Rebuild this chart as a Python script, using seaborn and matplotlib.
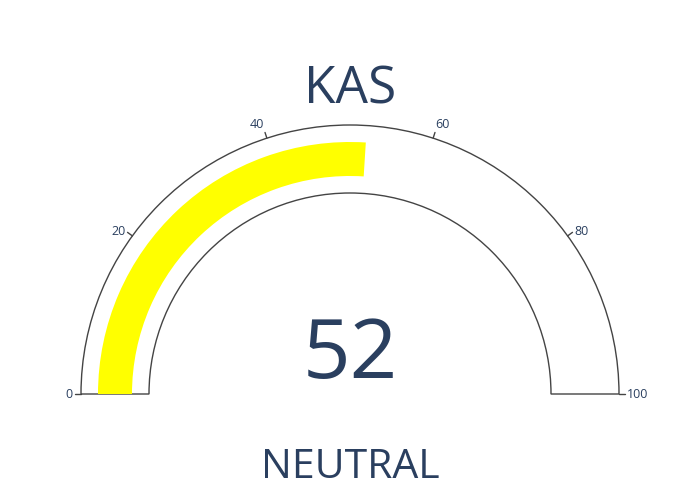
import matplotlib
matplotlib.use("Agg")
import matplotlib.pyplot as plt
from matplotlib.patches import Wedge
import numpy as np
import seaborn as sns

# gauge data
title = "KAS"
value = 52
label = "NEUTRAL"
axis_range = (0, 100)
tick_values = [0, 20, 40, 60, 80, 100]
bar_color = "#ffff00"

TEXT = "#2a3f5f"
LINE = "#444444"

sns.set_theme(style="white")
plt.rcParams['font.family'] = ['Open Sans', 'DejaVu Sans']

fig = plt.figure(figsize=(7, 5), dpi=100)
ax = fig.add_axes([0, 0, 1, 1])
ax.set_xlim(0, 700)
ax.set_ylim(0, 500)
ax.set_aspect("equal")
ax.axis("off")

# gauge geometry (pixel units)
cx, cy = 350, 106
r_out, r_in = 269, 201
bar_out, bar_in = 252, 218


def to_angle(v):
    lo, hi = axis_range
    return 180 - (v - lo) / (hi - lo) * 180


# gauge background outline
ax.add_patch(Wedge((cx, cy), r_out, 0, 180, width=r_out - r_in,
                   facecolor="white", edgecolor=LINE, linewidth=1))

# value bar
ax.add_patch(Wedge((cx, cy), bar_out, to_angle(value), 180, width=bar_out - bar_in,
                   facecolor=bar_color, edgecolor="none"))

# ticks and labels, anchored by the corner nearest the arc
for v in tick_values:
    a = np.deg2rad(to_angle(v))
    c, s = np.cos(a), np.sin(a)
    ax.plot([cx + r_out * c, cx + (r_out + 6) * c],
            [cy + r_out * s, cy + (r_out + 6) * s], color=LINE, lw=1)
    ha = "right" if c < -0.1 else ("left" if c > 0.1 else "center")
    va = "bottom" if s > 0.8 else "center"
    ax.text(cx + 277 * c, cy + 277 * s, str(v), ha=ha, va=va,
            fontsize=9, color=TEXT)

ax.text(350, 397, title, ha="center", va="baseline", fontsize=37, color=TEXT)
ax.text(350, 122, str(value), ha="center", va="baseline", fontsize=60, color=TEXT)
ax.text(350, 22, label, ha="center", va="baseline", fontsize=29.5, color=TEXT)

fig.savefig("out.png", dpi=100, facecolor="white")
